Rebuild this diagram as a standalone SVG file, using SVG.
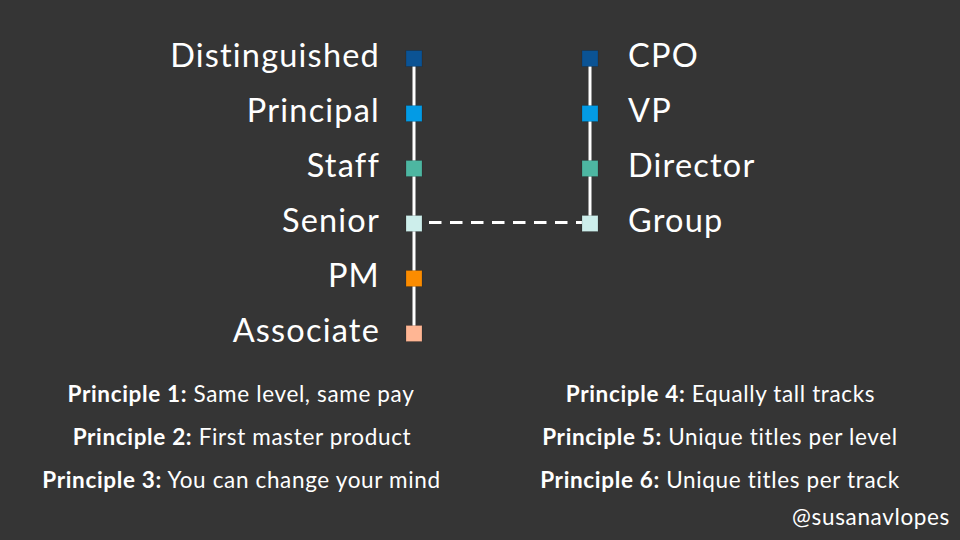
<svg xmlns="http://www.w3.org/2000/svg" width="960" height="540" viewBox="0 0 960 540">
<style>
text{font-variant-ligatures:none}
.lbl{font-family:Lato,"Open Sans",sans-serif;font-size:32.5px;letter-spacing:1.2px;fill:#ffffff}
.pr{font-family:Lato,"Open Sans",sans-serif;font-size:22.5px;letter-spacing:0.65px;fill:#ffffff;text-anchor:middle}
.pr .b{font-weight:bold}
.sq{stroke:#000;stroke-opacity:0.15;stroke-width:1}
.ln{stroke:#ffffff;stroke-width:3;fill:none}
.dash{stroke:#ffffff;stroke-width:3;stroke-dasharray:12.5 8.5;fill:none}
</style>
<rect width="960" height="540" fill="#353535"/>
<g id="connectors">
<line class="ln" x1="414" y1="58" x2="414" y2="333"/>
<line class="ln" x1="590" y1="58" x2="590" y2="223"/>
<line class="dash" x1="429" y1="222.5" x2="582" y2="222.5"/>
</g>
<g id="n-distinguished"><rect class="sq" x="406" y="50.5" width="16" height="16" fill="#0B5394"/><text class="lbl" x="380" y="67" text-anchor="end">Distinguished</text></g>
<g id="n-principal"><rect class="sq" x="406" y="105.5" width="16" height="16" fill="#039BE5"/><text class="lbl" x="380" y="122" text-anchor="end">Principal</text></g>
<g id="n-staff"><rect class="sq" x="406" y="160.5" width="16" height="16" fill="#4DB6A1"/><text class="lbl" x="380" y="177" text-anchor="end">Staff</text></g>
<g id="n-senior"><rect class="sq" x="406" y="215.5" width="16" height="16" fill="#CDEEEB"/><text class="lbl" x="380" y="232" text-anchor="end">Senior</text></g>
<g id="n-pm"><rect class="sq" x="406" y="270.5" width="16" height="16" fill="#FB8C00"/><text class="lbl" x="380" y="287" text-anchor="end">PM</text></g>
<g id="n-associate"><rect class="sq" x="406" y="325.5" width="16" height="16" fill="#FFB694"/><text class="lbl" x="380" y="342" text-anchor="end">Associate</text></g>
<g id="n-cpo"><rect class="sq" x="582" y="50.5" width="16" height="16" fill="#0B5394"/><text class="lbl" x="628" y="67">CPO</text></g>
<g id="n-vp"><rect class="sq" x="582" y="105.5" width="16" height="16" fill="#039BE5"/><text class="lbl" x="628" y="122">VP</text></g>
<g id="n-director"><rect class="sq" x="582" y="160.5" width="16" height="16" fill="#4DB6A1"/><text class="lbl" x="628" y="177">Director</text></g>
<g id="n-group"><rect class="sq" x="582" y="215.5" width="16" height="16" fill="#CDEEEB"/><text class="lbl" x="628" y="232">Group</text></g>
<g id="principles">
<text class="pr" x="241" y="402"><tspan class="b">Principle 1:</tspan> Same level, same pay</text>
<text class="pr" x="242" y="445"><tspan class="b">Principle 2:</tspan> First master product</text>
<text class="pr" x="241.5" y="488"><tspan class="b">Principle 3:</tspan> You can change your mind</text>
<text class="pr" x="720.5" y="402"><tspan class="b">Principle 4:</tspan> Equally tall tracks</text>
<text class="pr" x="720" y="445"><tspan class="b">Principle 5:</tspan> Unique titles per level</text>
<text class="pr" x="720" y="488"><tspan class="b">Principle 6:</tspan> Unique titles per track</text>
</g>
<text x="950" y="525" text-anchor="end" font-family="Lato,'Open Sans',sans-serif" font-size="22.5" letter-spacing="0.65" fill="#ffffff">@susanavlopes</text>
</svg>
